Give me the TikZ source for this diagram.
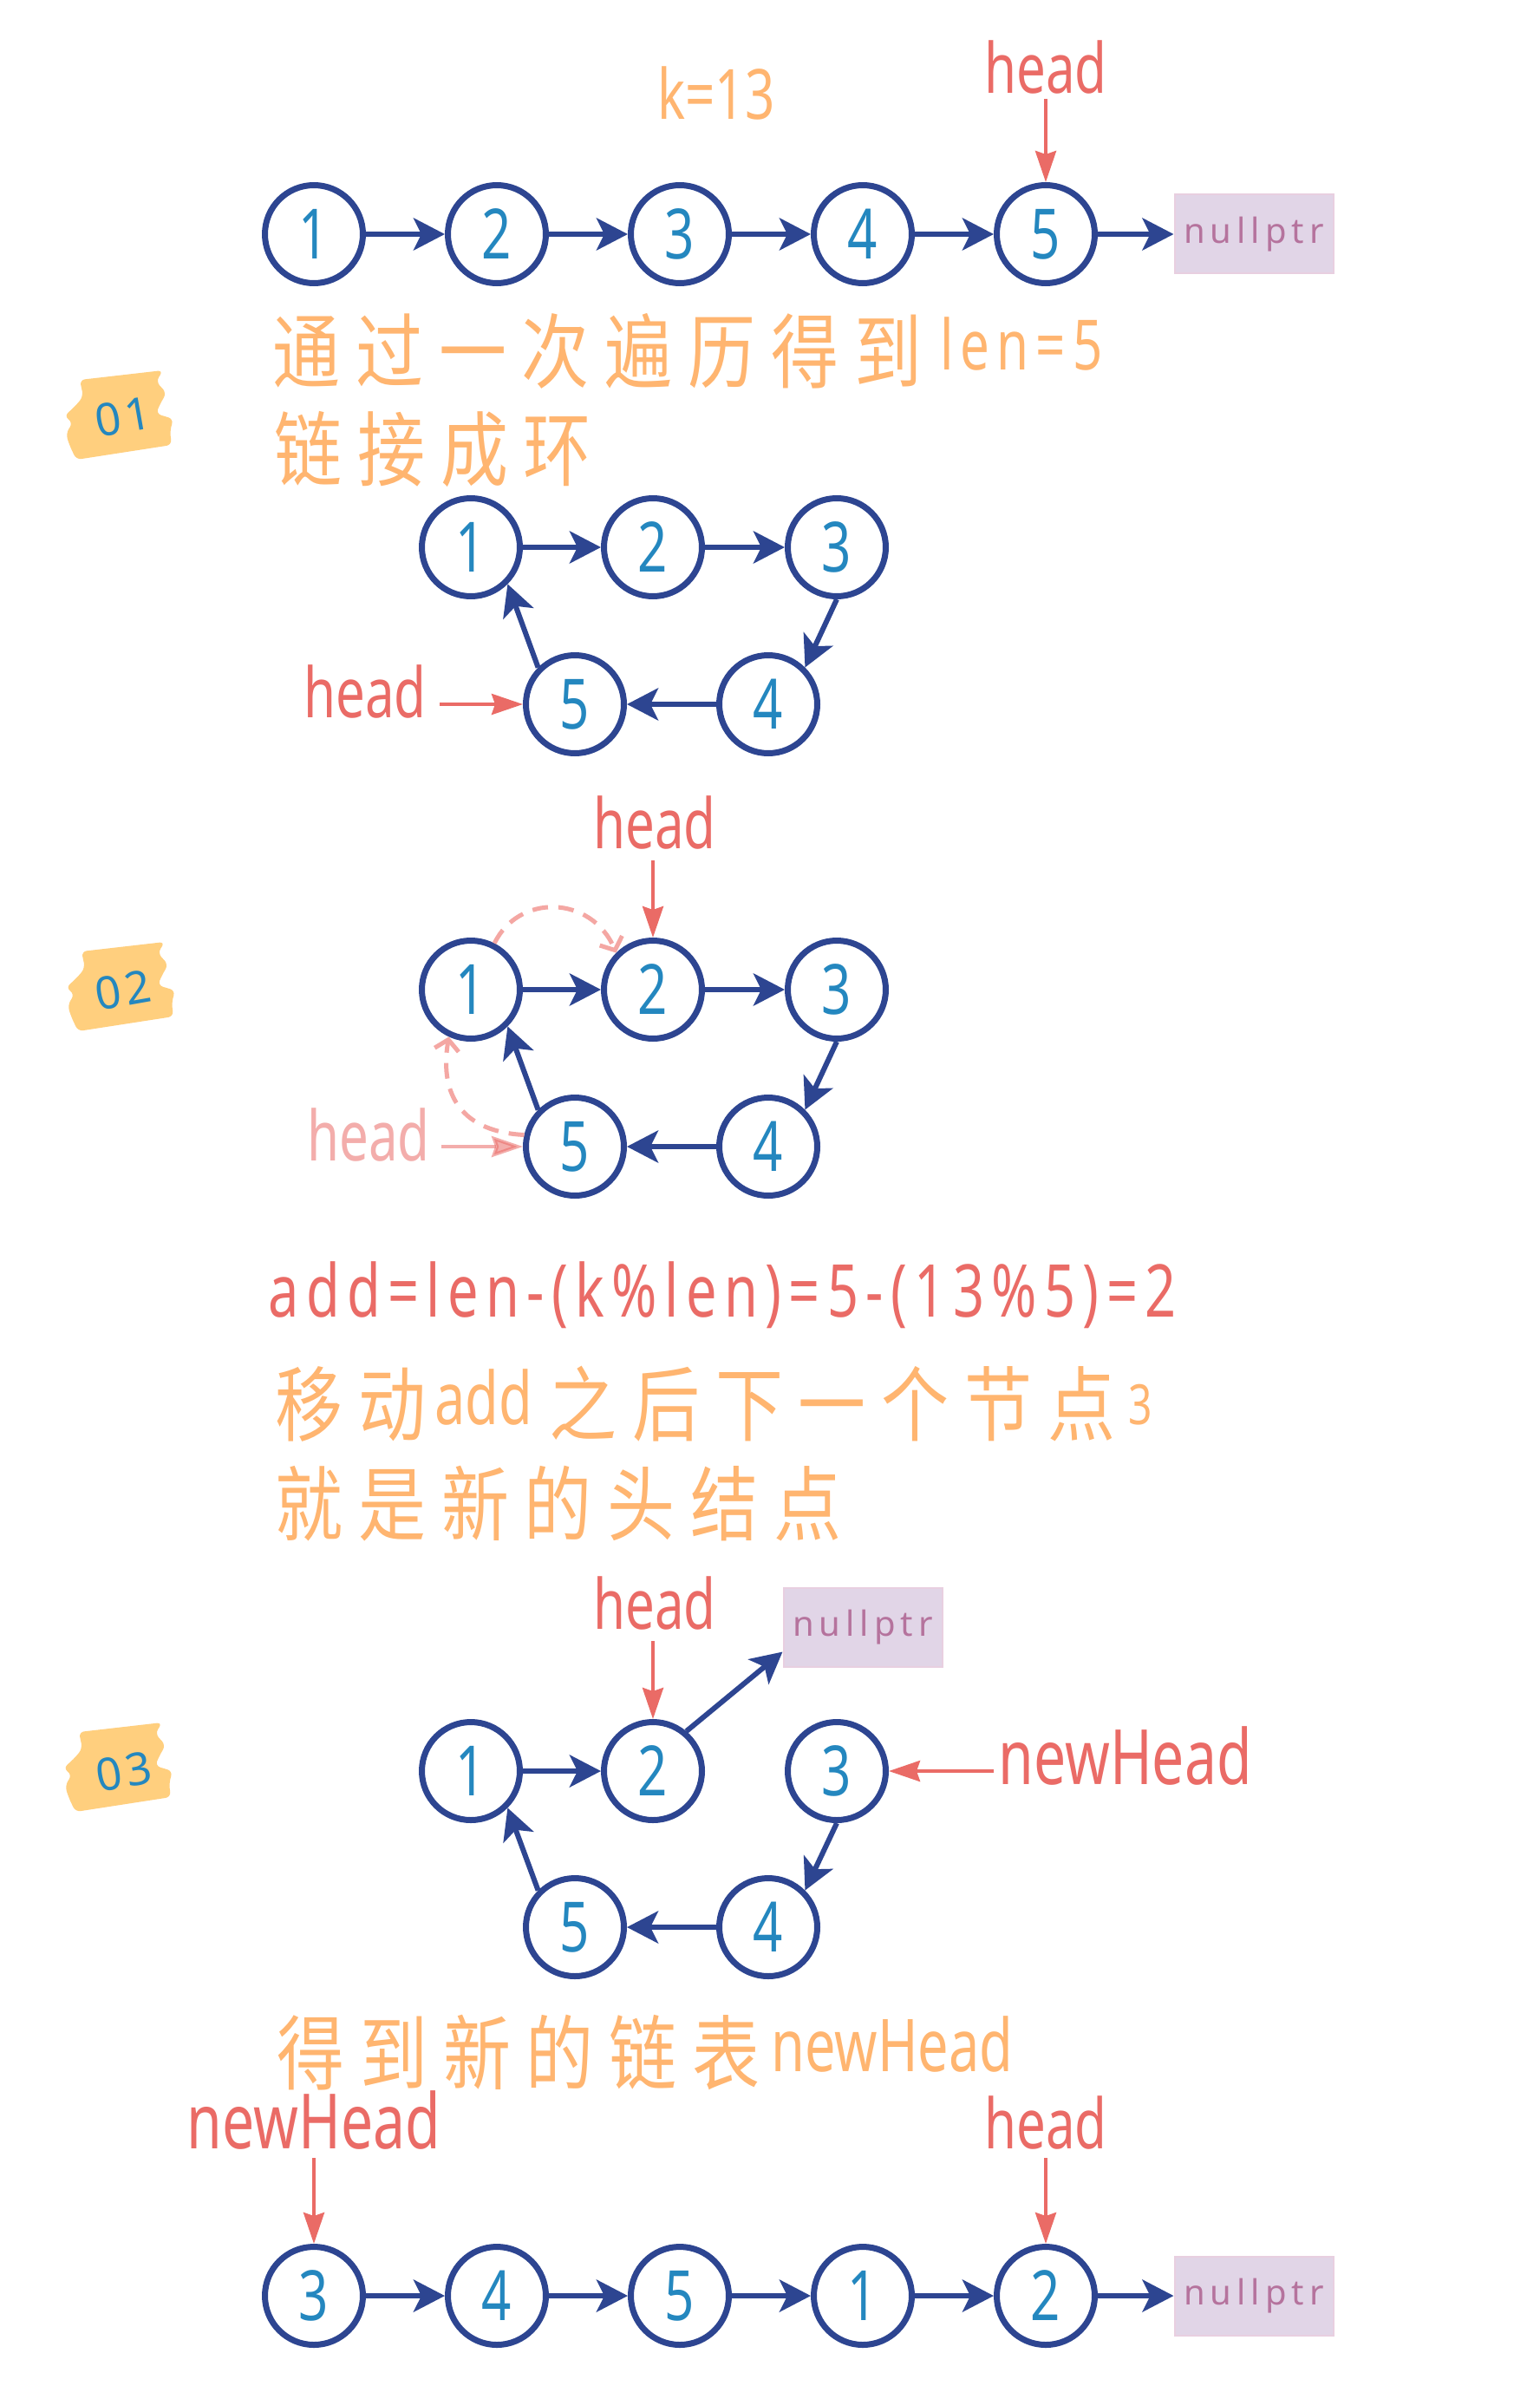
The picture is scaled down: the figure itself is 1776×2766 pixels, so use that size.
\documentclass[tikz,border=0pt]{standalone}
\usepackage{fontspec}
\setmainfont{Noto Sans}
\newfontfamily\cjkf[FakeStretch=0.83,LetterSpace=19]{Noto Sans CJK SC}
\newfontfamily\latf[FakeStretch=0.75]{Noto Sans}
\newfontfamily\latsf[FakeStretch=0.75,LetterSpace=10]{Noto Sans}
\newfontfamily\nullf[LetterSpace=15]{Noto Sans}
\newfontfamily\badgef[LetterSpace=8]{Noto Sans}
\usetikzlibrary{arrows.meta}
\definecolor{cblue}{HTML}{2D4591}
\definecolor{dblue}{HTML}{2487BF}
\definecolor{hred}{HTML}{EA6B66}
\definecolor{orng}{HTML}{FFB570}
\definecolor{pfill}{HTML}{E1D5E7}
\definecolor{pline}{HTML}{E8CFE0}
\definecolor{ptext}{HTML}{B5739D}
\definecolor{badgec}{HTML}{FFCF7E}
\definecolor{pinkc}{HTML}{F4A7A3}
\begin{document}
\begin{tikzpicture}[x=0.5pt,y=-0.5pt,
  circ/.style={circle, draw=cblue, fill=white, line width=3.5pt, minimum size=56.5pt, inner sep=0pt, text=dblue, font=\latf\fontsize{40}{40}\selectfont},
  link/.style={draw=cblue, line width=3pt, -{Stealth[length=18pt,width=18.5pt,inset=4.5pt]}},
  hptr/.style={draw=hred, line width=2pt, -{Stealth[length=18pt,width=12pt,inset=2pt]}},
  lbl/.style={text=hred, inner sep=0pt, font=\latf\fontsize{40}{40}\selectfont},
  nhlbl/.style={text=hred, inner sep=0pt, font=\latf\fontsize{44}{44}\selectfont},
  nullbox/.style={rectangle, fill=pfill, draw=pline, line width=1pt, minimum width=91.5pt, minimum height=45.5pt, inner sep=0pt, text=ptext, font=\nullf\fontsize{20}{20}\selectfont},
  cjkline/.style={anchor=base west, inner sep=0pt, text=orng, font=\cjkf\fontsize{47}{47}\selectfont},
  latline/.style={anchor=base west, inner sep=0pt, text=orng, font=\latf\fontsize{42}{42}\selectfont},
  dashcurve/.style={draw=pinkc, line width=2.5pt, dash pattern=on 9pt off 6pt, -{Straight Barb[length=6pt,width=14pt,line width=2.5pt]}},
  badgetext/.style={inner sep=0pt, text=dblue, font=\badgef\fontsize{26}{26}\selectfont, rotate=10},
  badgepic/.pic={\fill[badgec, rounded corners=3pt] (-46,-40) -- (50,-51) -- (42,-38) -- (54,-25) -- (46,-11) -- (42,-1) -- (62,5) -- (58,19) -- (60,35) -- (-50,52) -- (-58,35) -- (-62,22) -- (-54,9) -- (-64,2) -- (-50,-11) -- (-42,-21) -- cycle;}
]
\fill[white] (0,0) rectangle (1776,2766);
\useasboundingbox (0,0) rectangle (1776,2766);

% ---------- top row ----------
\node[anchor=base, inner sep=0pt, text=orng, font=\latf\fontsize{40}{40}\selectfont] (kval) at (826,138) {k=13};
\node[circ] (t1) at (362,270) {1};
\node[circ] (t2) at (573,270) {2};
\node[circ] (t3) at (784,270) {3};
\node[circ] (t4) at (995,270) {4};
\node[circ] (t5) at (1206,270) {5};
\node[nullbox] (np1) at (1446,270) {nullptr};
\draw[link] (t1) -- (t2);
\draw[link] (t2) -- (t3);
\draw[link] (t3) -- (t4);
\draw[link] (t4) -- (t5);
\draw[link] (t5) -- (np1);
\node[lbl, anchor=base] (hd0) at (1206,108) {head};
\coordinate (hs0) at (1206,114);
\draw[hptr] (hs0) -- (t5);

% ---------- text lines 01 ----------
\node[cjkline] (l1a) at (314,440) {通过一次遍历得到};
\node[latline, font=\latsf\fontsize{40}{40}\selectfont] (l1b) at (1084,426) {len=5};
\node[cjkline] (l2) at (316,553) {链接成环};

% ---------- badges ----------
\pic at (138,478) {badgepic};
\node[badgetext] (bg1) at (142,481) {01};
\pic at (140,1137) {badgepic};
\node[badgetext] (bg2) at (142,1142) {02};
\pic at (137,2037) {badgepic};
\node[badgetext] (bg3) at (143,2043) {03};

% ---------- ring 01 ----------
\node[circ] (a1) at (543,631) {1};
\node[circ] (a2) at (753,631) {2};
\node[circ] (a3) at (965,631) {3};
\node[circ] (a4) at (886,812) {4};
\node[circ] (a5) at (663,812) {5};
\draw[link] (a1) -- (a2);
\draw[link] (a2) -- (a3);
\draw[link] (a3.south) -- (a4.45);
\draw[link] (a4) -- (a5);
\draw[link] (a5.135) -- (a1.315);
\node[lbl, anchor=base east] (ha) at (492,827) {head};
\coordinate (hsa) at (507,812);
\draw[hptr] (hsa) -- (a5);

% ---------- ring 02 ----------
\node[circ] (b1) at (543,1141) {1};
\node[circ] (b2) at (753,1141) {2};
\node[circ] (b3) at (965,1141) {3};
\node[circ] (b4) at (886,1322) {4};
\node[circ] (b5) at (663,1322) {5};
\draw[link] (b1) -- (b2);
\draw[link] (b2) -- (b3);
\draw[link] (b3.south) -- (b4.45);
\draw[link] (b4) -- (b5);
\draw[link] (b5.135) -- (b1.315);
\node[lbl, anchor=base] (hb) at (755,978) {head};
\coordinate (hsb) at (753,992);
\draw[hptr] (hsb) -- (b2);
\node[lbl, anchor=base east, opacity=0.55] (hbf) at (496,1338) {head};
\coordinate (hsbf) at (509,1322);
\draw[hptr, opacity=0.55] (hsbf) -- (b5);
\draw[dashcurve] (b1.63) .. controls (598,1030) and (682,1032) .. (b2.135);
\draw[dashcurve] (b5.167) .. controls (535,1305) and (506,1265) .. (b1.245);

% ---------- formula and text ----------
\node[anchor=base west, inner sep=0pt, text=hred, font=\latsf\fontsize{42}{42}\selectfont] (fm) at (309,1518) {add=len-(k\%len)=5-(13\%5)=2};
\node[cjkline] (l3a) at (317,1654) {移动};
\node[latline] (l3b) at (501,1642) {add};
\node[cjkline] (l3c) at (633,1654) {之后下一个节点};
\node[latline, font=\latf\fontsize{32}{32}\selectfont] (l3d) at (1301,1642) {3};
\node[cjkline] (l4) at (317,1769) {就是新的头结点};

% ---------- ring 03 ----------
\node[circ] (c1) at (543,2042) {1};
\node[circ] (c2) at (753,2042) {2};
\node[circ] (c3) at (965,2042) {3};
\node[circ] (c4) at (886,2222) {4};
\node[circ] (c5) at (663,2222) {5};
\node[nullbox] (np3) at (995,1876) {nullptr};
\draw[link] (c1) -- (c2);
\draw[link] (c3.south) -- (c4.45);
\draw[link] (c4) -- (c5);
\draw[link] (c5.135) -- (c1.315);
\coordinate (npc) at ([yshift=9pt]np3.south west);
\draw[link] (c2.50) -- (npc);
\node[lbl, anchor=base] (hc) at (755,1878) {head};
\coordinate (hsc) at (753,1892);
\draw[hptr] (hsc) -- (c2);
\node[nhlbl, anchor=base west] (nhc) at (1151,2057) {newHead};
\coordinate (nsc) at (1146,2042);
\draw[hptr] (nsc) -- (c3);

% ---------- final text ----------
\node[cjkline] (l5a) at (319,2402) {得到新的链表};
\node[latline] (l5b) at (889,2388) {newHead};

% ---------- bottom row ----------
\node[circ] (d1) at (362,2647) {3};
\node[circ] (d2) at (573,2647) {4};
\node[circ] (d3) at (784,2647) {5};
\node[circ] (d4) at (995,2647) {1};
\node[circ] (d5) at (1206,2647) {2};
\node[nullbox] (np4) at (1446,2647) {nullptr};
\draw[link] (d1) -- (d2);
\draw[link] (d2) -- (d3);
\draw[link] (d3) -- (d4);
\draw[link] (d4) -- (d5);
\draw[link] (d5) -- (np4);
\node[nhlbl, anchor=base] (nhd) at (362,2477) {newHead};
\coordinate (nsd) at (362,2488);
\draw[hptr] (nsd) -- (d1);
\node[lbl, anchor=base] (hdd) at (1206,2477) {head};
\coordinate (hsd) at (1206,2488);
\draw[hptr] (hsd) -- (d5);
\end{tikzpicture}
\end{document}
